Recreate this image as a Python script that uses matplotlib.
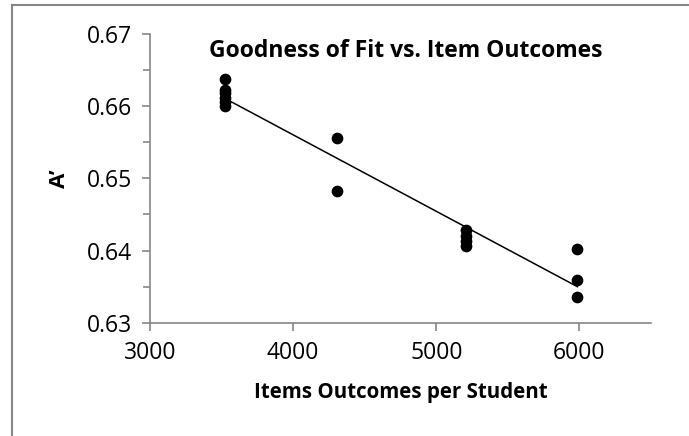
import numpy as np
import matplotlib
matplotlib.use('Agg')
import matplotlib.pyplot as plt
from matplotlib.lines import Line2D
from matplotlib.ticker import MultipleLocator

# data
items_per_student = [3523, 3523, 3523, 3523, 3523, 3523,
                     4305, 4305,
                     5210, 5210, 5210, 5210,
                     5986, 5986, 5986]
a_prime = [0.6637, 0.6622, 0.6618, 0.6611, 0.6605, 0.6600,
           0.6556, 0.6483,
           0.6428, 0.6420, 0.6413, 0.6406,
           0.6402, 0.6360, 0.6336]

x_ticks = [3000, 4000, 5000, 6000]
y_ticks = [0.63, 0.64, 0.65, 0.66, 0.67]

plt.rcParams['font.family'] = ['Open Sans', 'DejaVu Sans']
grey = '#868686'

fig = plt.figure(figsize=(6.89, 4.36), dpi=100)
ax = fig.add_axes([150 / 689, 1 - 323 / 436, 501 / 689, 289.5 / 436])

ax.scatter(items_per_student, a_prime, s=55, color='black', zorder=3)

# linear trendline over the data range
coef = np.polyfit(items_per_student, a_prime, 1)
xs = np.array([min(items_per_student), max(items_per_student)])
ax.plot(xs, np.polyval(coef, xs), color='black', lw=1.1, zorder=2)

ax.set_xlim(3000, 6500)
ax.set_ylim(0.63, 0.67)
ax.set_xticks(x_ticks)
ax.set_xticklabels([str(v) for v in x_ticks])
ax.set_yticks(y_ticks)
ax.set_yticklabels([f'{v:.2f}' for v in y_ticks])
ax.yaxis.set_minor_locator(MultipleLocator(0.005))

for side in ['top', 'right']:
    ax.spines[side].set_visible(False)
for side in ['left', 'bottom']:
    ax.spines[side].set_color(grey)
    ax.spines[side].set_linewidth(1.2)

ax.tick_params(axis='both', which='both', color=grey, width=1.2, labelsize=16.5)
ax.tick_params(axis='both', which='major', length=6, pad=7)
ax.tick_params(axis='y', which='minor', length=5)

ax.set_xlabel('Items Outcomes per Student', fontsize=14.8, fontweight='bold', labelpad=12)
ax.set_ylabel('A\u2019', fontsize=16, fontweight='bold', labelpad=12)

ax.text(0.51, 0.98, 'Goodness of Fit vs. Item Outcomes', transform=ax.transAxes,
        ha='center', va='top', fontsize=16.5, fontweight='bold')

# chart area border (partly cropped)
fig.add_artist(Line2D([12 / 689, 12 / 689], [0, 1 - 5.5 / 436],
                      transform=fig.transFigure, color=grey, lw=1.5))
fig.add_artist(Line2D([12 / 689, 1], [1 - 5.5 / 436, 1 - 5.5 / 436],
                      transform=fig.transFigure, color=grey, lw=1.5))

fig.savefig('out.png', dpi=100)
